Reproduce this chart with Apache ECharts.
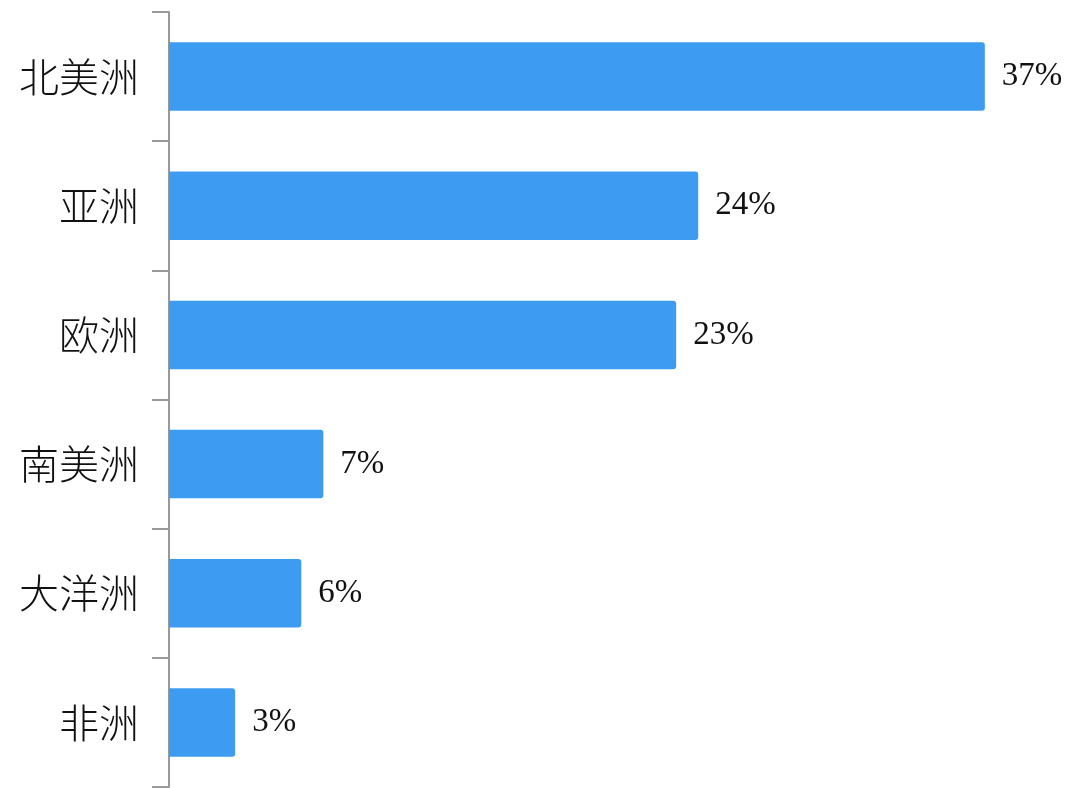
<!DOCTYPE html>
<html>
<head>
<meta charset="utf-8">
<script src="https://cdn.jsdelivr.net/npm/echarts@6/dist/echarts.min.js"></script>
<style>html,body{margin:0;padding:0;background:#fff}#c{width:1069px;height:788px}</style>
</head>
<body>
<div id="c"></div>
<script>
var categories = ['北美洲', '亚洲', '欧洲', '南美洲', '大洋洲', '非洲'];
var values = [37, 24, 23, 7, 6, 3];

var chart = echarts.init(document.getElementById('c'));
chart.setOption({
  animation: false,
  backgroundColor: '#fff',
  grid: { left: 169, right: 18, top: 12, bottom: 1, containLabel: false },
  xAxis: {
    type: 'value', min: 0, max: 40, show: false
  },
  yAxis: {
    type: 'category', data: categories, inverse: true,
    axisLine: { show: true, lineStyle: { color: '#999', width: 2 } },
    axisTick: { show: true, length: 17, inside: false, lineStyle: { color: '#999', width: 2 } },
    axisLabel: { margin: 30, color: '#111', fontSize: 40, fontWeight: 300, fontFamily: '"Noto Sans CJK SC", serif' },
    splitLine: { show: false }
  },
  series: [{
    type: 'bar', data: values, barCategoryGap: '47%',
    itemStyle: { color: '#3d9cf2', borderRadius: [0, 3, 3, 0] },
    label: {
      show: true, position: 'right', distance: 17,
      formatter: '{c}%', color: '#111', fontSize: 33,
      fontFamily: '"Liberation Serif", "DejaVu Serif", serif'
    }
  }]
});
</script>
</body>
</html>
